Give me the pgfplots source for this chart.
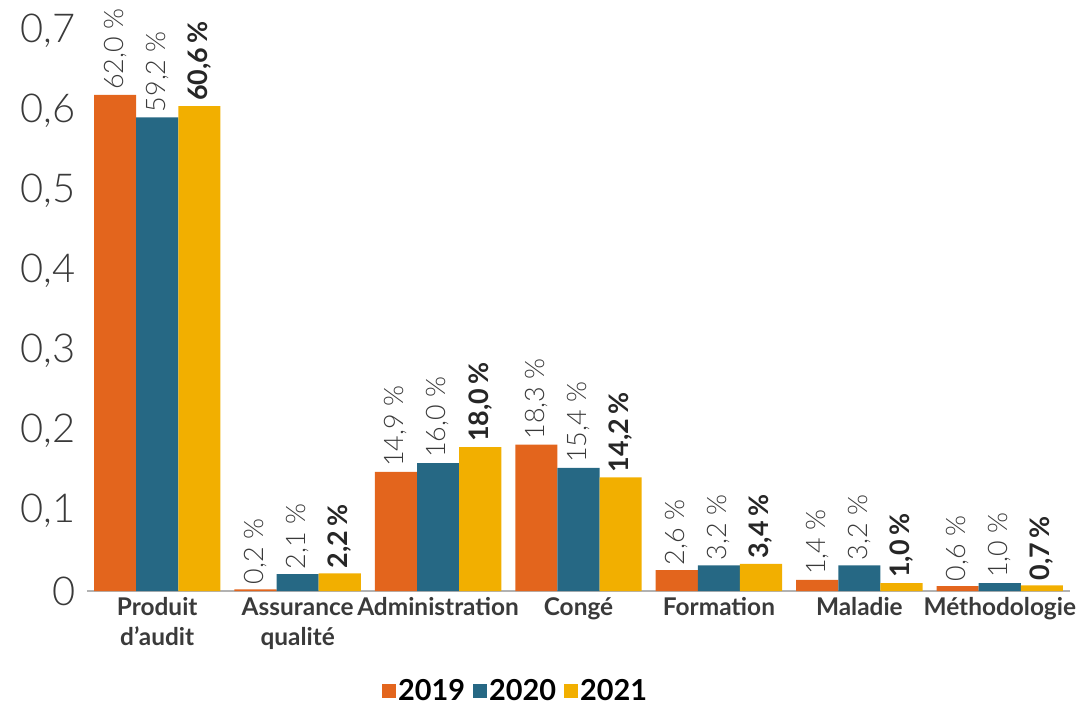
\documentclass[border=0pt]{standalone}
\usepackage{pgfplots}
\pgfplotsset{compat=1.18}
\usepackage{fontspec}
\setmainfont{Lato}
\newfontfamily\lightf{Lato Light}
\definecolor{c19}{HTML}{E3651D}
\definecolor{c20}{HTML}{266884}
\definecolor{c21}{HTML}{F2AF00}
\definecolor{txt}{HTML}{3A3A3A}
\begin{document}
\begin{tikzpicture}[x=1bp,y=1bp]
\begin{axis}[
  name=ax,
  scale only axis,
  width=983bp, height=560bp,
  xmin=-0.5, xmax=6.5,
  ymin=0, ymax=0.7,
  ybar=0pt, bar width=0.3,
  axis x line*=bottom,
  axis y line*=left,
  y axis line style={draw=none},
  x axis line style={draw=gray!60, line width=1.2bp, -},
  xtick={0,...,6},
  xticklabels={Produit\\d’audit,Assurance\\qualité,Administration,Congé,Formation,Maladie,Méthodologie},
  x tick label style={align=center, font=\fontsize{24.5}{30}\selectfont\bfseries, text=txt, yshift=-3bp},
  major tick length=0pt,
  ytick={0,0.1,...,0.7},
  yticklabels={0,{0,1},{0,2},{0,3},{0,4},{0,5},{0,6},{0,7}},
  y tick label style={font=\fontsize{40}{42}\selectfont\lightf, text=txt, xshift=-8bp},
  clip=false,
  legend style={draw=none, at={(0.436,-0.178)}, anchor=center, legend columns=-1,
    font=\fontsize{29}{32}\selectfont\bfseries, text=black, inner sep=1bp,
    /tikz/every even column/.append style={column sep=6bp}},
  legend image code/.code={\fill[#1] (0bp,-7bp) rectangle (14bp,7bp);},
  point meta={y*100},
  nodes near coords style={rotate=90, anchor=west, text=txt, inner sep=5bp, font=\fontsize{27}{28}\selectfont},
]
\addplot[fill=c19, draw=none,
  nodes near coords={\lightf\pgfmathprintnumber[fixed,zerofill,precision=1,use comma,assume math mode=true]{\pgfplotspointmeta}~\%}]
  coordinates {(0,0.620) (1,0.002) (2,0.149) (3,0.183) (4,0.026) (5,0.014) (6,0.006)};
\addplot[fill=c20, draw=none,
  nodes near coords={\lightf\pgfmathprintnumber[fixed,zerofill,precision=1,use comma,assume math mode=true]{\pgfplotspointmeta}~\%}]
  coordinates {(0,0.592) (1,0.021) (2,0.160) (3,0.154) (4,0.032) (5,0.032) (6,0.010)};
\addplot[fill=c21, draw=none,
  nodes near coords={\bfseries\pgfmathprintnumber[fixed,zerofill,precision=1,use comma,assume math mode=true]{\pgfplotspointmeta}\,\%},
  every node near coord/.append style={text=black!85}]
  coordinates {(0,0.606) (1,0.022) (2,0.180) (3,0.142) (4,0.034) (5,0.010) (6,0.007)};
\legend{2019,2020,2021}
\end{axis}
\pgfresetboundingbox
\path[use as bounding box] ([xshift=-87bp,yshift=-118bp]ax.south west) rectangle ([xshift=20bp,yshift=31bp]ax.north east);
\end{tikzpicture}
\end{document}
